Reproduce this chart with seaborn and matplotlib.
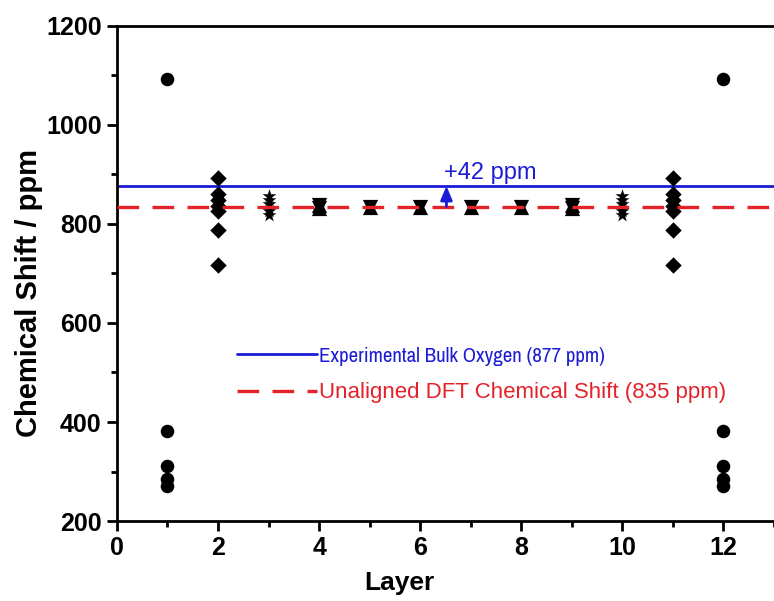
import numpy as np
import pandas as pd
import matplotlib
matplotlib.use("Agg")
import matplotlib.pyplot as plt
from matplotlib import font_manager
from matplotlib.ticker import MultipleLocator
import seaborn as sns

# ---- data ----
circle_layers = [1, 1, 1, 1, 1, 12, 12, 12, 12, 12]
circle_shifts = [1093, 381, 311, 285, 271, 1093, 381, 311, 285, 271]

diamond_layers = [2] * 7 + [11] * 7
diamond_shifts = [892, 861, 849, 837, 826, 788, 718,
                  892, 861, 849, 837, 826, 788, 718]

star_layers = [3] * 6 + [10] * 6
star_shifts = [856, 848, 840, 833, 826, 818,
               856, 848, 840, 833, 826, 818]

tri_layers = [4, 4, 5, 6, 7, 8, 9, 9]
tri_down_shifts = [838, 832, 835, 835, 835, 835, 838, 832]
tri_up_shifts = [838, 832, 835, 835, 835, 835, 838, 832]

exp_bulk = 877
dft_shift = 835
exp_label = "Experimental Bulk Oxygen (877 ppm)"
dft_label = "Unaligned DFT Chemical Shift (835 ppm)"
diff_label = "+42 ppm"

# ---- style ----
sns.set_style("ticks")
plt.rcParams['font.family'] = ['Liberation Sans', 'DejaVu Sans']
for k in ['text.color', 'axes.labelcolor', 'xtick.color', 'ytick.color', 'axes.edgecolor']:
    plt.rcParams[k] = 'black'

# look for a condensed face for the first legend entry
narrow_family, narrow_stretch = None, 'normal'
for f in font_manager.fontManager.ttflist:
    if 'Narrow' in f.name or 'Condensed' in f.name:
        narrow_family = f.name
        break
if narrow_family is None:
    for f in font_manager.fontManager.ttflist:
        if str(f.stretch) in ('condensed', 'semi-condensed', '700', '600') and f.name in (
                'DejaVu Sans', 'Noto Sans', 'Open Sans', 'Roboto', 'Liberation Sans'):
            narrow_family, narrow_stretch = f.name, f.stretch
            break
if narrow_family is None:
    narrow_family = 'Liberation Sans'

BLUE = '#1c1cd6'
RED = '#e3222a'

fig = plt.figure(figsize=(7.74, 6.01), dpi=100)
ax = fig.add_axes([0.151, 0.133, 0.849, 0.824])

circ = pd.DataFrame({'layer': circle_layers, 'shift': circle_shifts})
diam = pd.DataFrame({'layer': diamond_layers, 'shift': diamond_shifts})
star = pd.DataFrame({'layer': star_layers, 'shift': star_shifts})
tdn = pd.DataFrame({'layer': tri_layers, 'shift': tri_down_shifts})
tup = pd.DataFrame({'layer': tri_layers, 'shift': tri_up_shifts})

sns.scatterplot(data=circ, x='layer', y='shift', marker='o', s=95, color='black',
                edgecolor='black', linewidth=0, ax=ax, zorder=4)
sns.scatterplot(data=diam, x='layer', y='shift', marker='D', s=70, color='black',
                edgecolor='black', linewidth=0, ax=ax, zorder=4)
sns.scatterplot(data=star, x='layer', y='shift', marker='*', s=110, color='black',
                edgecolor='black', linewidth=0, ax=ax, zorder=4)
sns.scatterplot(data=tdn, x='layer', y='shift', marker='v', s=120, color='black',
                edgecolor='black', linewidth=0, ax=ax, zorder=4)
sns.scatterplot(data=tup, x='layer', y='shift', marker='^', s=120, color='black',
                edgecolor='black', linewidth=0, ax=ax, zorder=4)

l1 = ax.axhline(exp_bulk, color=BLUE, lw=2, zorder=2, label=exp_label)
l2 = ax.axhline(dft_shift, color=RED, lw=2.4, ls=(0, (6.5, 4)), zorder=5, label=dft_label)

ax.annotate('', xy=(6.52, exp_bulk), xytext=(6.52, dft_shift),
            arrowprops=dict(arrowstyle='-|>,head_length=0.6,head_width=0.25', color=BLUE, lw=2,
                            mutation_scale=14, shrinkA=0, shrinkB=0), zorder=5)
ax.text(6.47, 881, diff_label, color=BLUE, fontsize=17, ha='left', va='bottom')

ax.set_xlim(0, 13)
ax.set_ylim(200, 1200)
ax.xaxis.set_major_locator(MultipleLocator(2))
ax.xaxis.set_minor_locator(MultipleLocator(1))
ax.yaxis.set_major_locator(MultipleLocator(200))
ax.yaxis.set_minor_locator(MultipleLocator(100))
ax.tick_params(which='major', direction='out', length=7, width=2, labelsize=18,
               colors='black', pad=4)
ax.tick_params(which='minor', direction='out', length=4, width=2, colors='black')
for lab in ax.get_xticklabels() + ax.get_yticklabels():
    lab.set_fontweight('bold')

for side in ['left', 'bottom', 'top']:
    ax.spines[side].set_linewidth(2)
    ax.spines[side].set_visible(True)
    ax.spines[side].set_color('black')
ax.spines['right'].set_visible(False)

ax.set_xlabel('Layer', fontsize=19, fontweight='bold')
ax.set_ylabel('Chemical Shift / ppm', fontsize=21, fontweight='bold')
ax.xaxis.set_label_coords(0.43, -0.1)
ax.yaxis.set_label_coords(-0.113, 0.46)

leg = ax.legend(handles=[l1, l2], loc='upper left', bbox_to_anchor=(0.183, 0.353),
                frameon=False, fontsize=16, handlelength=3.6, handletextpad=0.1,
                labelspacing=0.75, borderpad=0, borderaxespad=0)
texts = leg.get_texts()
texts[0].set_color(BLUE)
texts[0].set_fontfamily([narrow_family, 'DejaVu Sans'])
texts[0].set_fontstretch(narrow_stretch)
texts[1].set_color(RED)

# fit the condensed label to its width in the reference (~285 px)
fig.canvas.draw()
r = fig.canvas.get_renderer()
w = texts[0].get_window_extent(r).width
if w > 0:
    texts[0].set_fontsize(16 * min(1.0, 287.0 / w))

fig.savefig('out.png', dpi=100)
